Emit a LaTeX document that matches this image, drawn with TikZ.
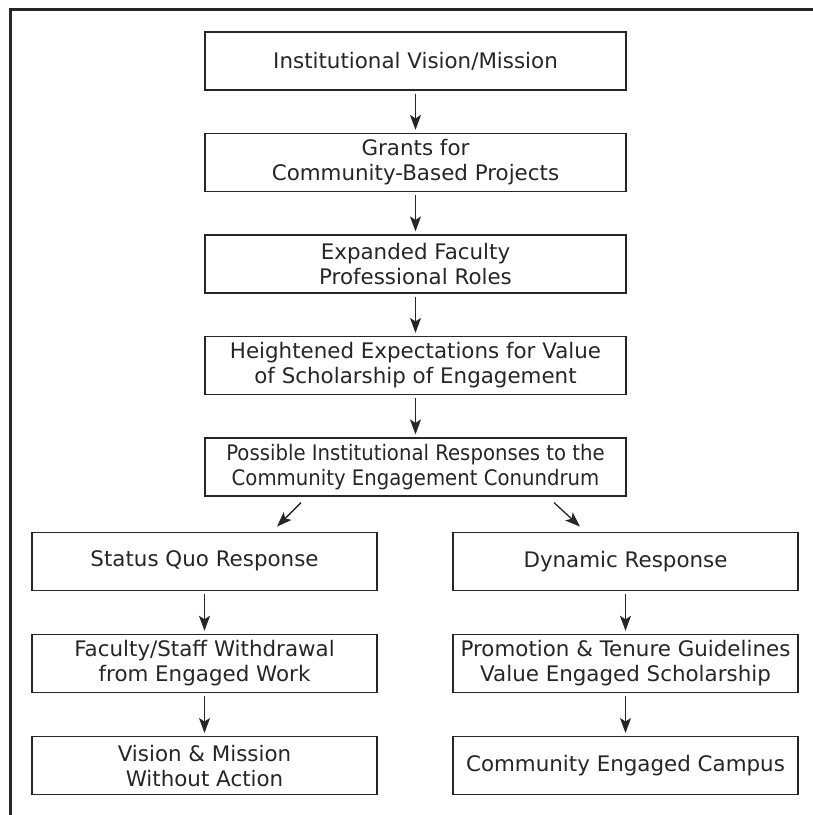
\documentclass[tikz,border=0pt]{standalone}
\usepackage{fontspec}
\setmainfont{DejaVu Sans}
\newfontfamily\narrowfont{DejaVu Sans}[FakeStretch=0.92]
\usetikzlibrary{positioning}
\usetikzlibrary{chains,arrows.meta}

\colorlet{ink}{black!85}
\tikzset{
  stage/.style={draw=ink, line width=1.2pt, text=ink, minimum height=58pt, inner sep=2pt,
    align=center, font=\fontsize{21.4}{25}\selectfont},
  wide/.style={stage, minimum width=421pt},
  half/.style={stage, minimum width=345pt},
  flow/.style={draw=ink, line width=1.3pt, -{Stealth[length=15pt,width=11pt,inset=3.5pt]},
    shorten <=3pt, shorten >=3pt}
}

\begin{document}
\begin{tikzpicture}[x=1pt, y=-1pt]
  \useasboundingbox (0,0) rectangle (813,815);
  \draw[ink, line width=3pt] (10,815) -- (10,9) -- (813,9);

  % main column
  \begin{scope}[start chain=main going below, node distance=42.3pt]
    \node [on chain=main, wide] (vision) at (415.5,61) {Institutional Vision/Mission};
    \foreach \name/\txt in {grants/{Grants for\\Community-Based Projects},
        roles/{Expanded Faculty\\Professional Roles},
        expect/{Heightened Expectations for Value\\of Scholarship of Engagement},
        possible/{\narrowfont Possible Institutional Responses to the\\\narrowfont Community Engagement Conundrum}} {
      \node [on chain=main, wide] (\name) {\txt};
    }
  \end{scope}

  % two responses
  \begin{scope}[start chain=left going below, node distance=43pt]
    \node [on chain=left, half, below=35pt of possible, xshift=-211pt] (statusquo) {Status Quo Response};
    \node [on chain=left, half] (withdraw) {Faculty/Staff Withdrawal\\from Engaged Work};
    \node [on chain=left, half] (inaction) {Vision \& Mission\\Without Action};
  \end{scope}
  \begin{scope}[start chain=right going below, node distance=43pt]
    \node [on chain=right, half, below=35pt of possible, xshift=210pt] (dynamic) {Dynamic Response};
    \node [on chain=right, half] (promotion) {Promotion \& Tenure Guidelines\\Value Engaged Scholarship};
    \node [on chain=right, half] (campus) {Community Engaged Campus};
  \end{scope}

  \foreach \a/\b in {vision/grants,grants/roles,roles/expect,expect/possible,
      statusquo/withdraw,withdraw/inaction,dynamic/promotion,promotion/campus}
    \draw[flow] (\a) -- (\b);

  \draw[flow, shorten <=0pt, shorten >=0pt] ([xshift=-114.5pt,yshift=-6pt]possible.south)
    -- ([xshift=72.5pt,yshift=5pt]statusquo.north);
  \draw[flow, shorten <=0pt, shorten >=0pt] ([xshift=138.5pt,yshift=-6pt]possible.south)
    -- ([xshift=-45.5pt,yshift=5pt]dynamic.north);
\end{tikzpicture}
\end{document}
